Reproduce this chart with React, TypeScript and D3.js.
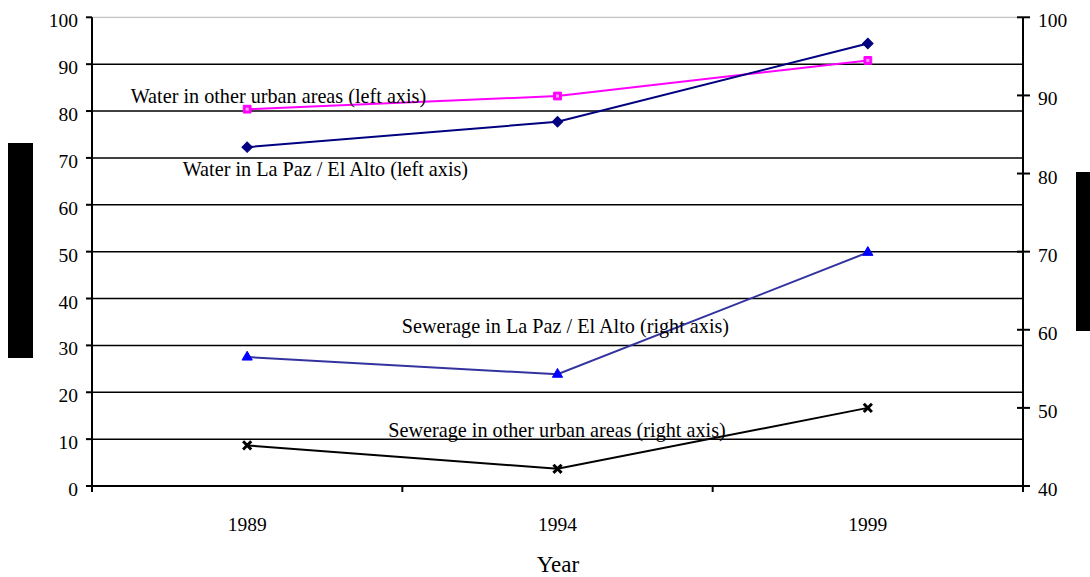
import { useRef, useEffect } from 'react';
import * as d3 from 'd3';

const years = ['1989', '1994', '1999'];

// left axis series (%)
const waterOtherUrban = [80.4, 83.2, 90.8];
const waterLaPaz = [72.3, 77.7, 94.4];

// right axis series (%)
const sewerLaPaz = [56.5, 54.3, 69.9];
const sewerOtherUrban = [45.2, 42.2, 50.0];

const leftTicks = [0, 10, 20, 30, 40, 50, 60, 70, 80, 90, 100];
const rightTicks = [40, 50, 60, 70, 80, 90, 100];

const width = 1090;
const height = 577;
const font = '"Liberation Serif", "Times New Roman", serif';

export default function App() {
  const svgRef = useRef<SVGSVGElement>(null);

  useEffect(() => {
    if (!svgRef.current) return;
    const svg = d3.select(svgRef.current);
    svg.selectAll('*').remove();

    const left = 92;
    const right = 1023;
    const top = 17.3;
    const bottom = 486;

    const x = d3.scaleBand().domain(years).range([left, right]).padding(0);
    const yL = d3.scaleLinear().domain([0, 100]).range([bottom, top]);
    const yR = d3.scaleLinear().domain([40, 100]).range([bottom, top]);
    const cx = (d: string) => x(d)! + x.bandwidth() / 2;

    // side blocks (rotated axis titles rendered as solid boxes)
    svg.append('rect').attr('x', 8).attr('y', 143).attr('width', 25).attr('height', 215).attr('fill', '#000');
    svg.append('rect').attr('x', 1076).attr('y', 172).attr('width', 14).attr('height', 159).attr('fill', '#000');

    // gridlines
    svg.append('g')
      .selectAll('line')
      .data(leftTicks.filter((t) => t > 0))
      .enter()
      .append('line')
      .attr('x1', left)
      .attr('x2', right)
      .attr('y1', (d) => yL(d))
      .attr('y2', (d) => yL(d))
      .attr('stroke', (d) => (d === 100 ? '#b4b4b4' : '#000'))
      .attr('stroke-width', (d) => (d === 100 ? 1 : 1.5));

    // left axis
    const gL = svg.append('g').attr('transform', `translate(${left},0)`);
    gL.append('line').attr('y1', top).attr('y2', bottom + 6).attr('stroke', '#000').attr('stroke-width', 2);
    gL.selectAll('.tick')
      .data(leftTicks)
      .enter()
      .append('line')
      .attr('x1', -6)
      .attr('x2', 0)
      .attr('y1', (d) => yL(d))
      .attr('y2', (d) => yL(d))
      .attr('stroke', '#000')
      .attr('stroke-width', 2);
    gL.selectAll('text')
      .data(leftTicks)
      .enter()
      .append('text')
      .attr('x', -14)
      .attr('y', (d) => yL(d) + 10)
      .attr('text-anchor', 'end')
      .attr('font-family', font)
      .attr('font-size', '19.5px')
      .text((d) => String(d));

    // right axis
    const gR = svg.append('g').attr('transform', `translate(${right},0)`);
    gR.append('line').attr('y1', top).attr('y2', bottom + 6).attr('stroke', '#000').attr('stroke-width', 2);
    gR.selectAll('.tick')
      .data(rightTicks)
      .enter()
      .append('line')
      .attr('x1', -6)
      .attr('x2', 7)
      .attr('y1', (d) => yR(d))
      .attr('y2', (d) => yR(d))
      .attr('stroke', '#000')
      .attr('stroke-width', 2);
    gR.selectAll('text')
      .data(rightTicks)
      .enter()
      .append('text')
      .attr('x', 15)
      .attr('y', (d) => yR(d) + 10)
      .attr('font-family', font)
      .attr('font-size', '19.5px')
      .text((d) => String(d));

    // x axis
    svg.append('line')
      .attr('x1', left)
      .attr('x2', right)
      .attr('y1', bottom)
      .attr('y2', bottom)
      .attr('stroke', '#000')
      .attr('stroke-width', 2);
    const bounds = years.map((d) => x(d)!).concat([right]);
    svg.append('g')
      .selectAll('line')
      .data(bounds)
      .enter()
      .append('line')
      .attr('x1', (d) => d)
      .attr('x2', (d) => d)
      .attr('y1', bottom)
      .attr('y2', bottom + 6)
      .attr('stroke', '#000')
      .attr('stroke-width', 2);
    svg.append('g')
      .selectAll('text')
      .data(years)
      .enter()
      .append('text')
      .attr('x', (d) => cx(d))
      .attr('y', 531)
      .attr('text-anchor', 'middle')
      .attr('font-family', font)
      .attr('font-size', '19.5px')
      .text((d) => d);
    svg.append('text')
      .attr('x', 558)
      .attr('y', 572)
      .attr('text-anchor', 'middle')
      .attr('font-family', font)
      .attr('font-size', '23px')
      .text('Year');

    // series
    const series = [
      { values: waterOtherUrban, y: yL, line: '#ff00ff', mark: '#ff00ff', symbol: d3.symbolSquare, size: 60, rotate: 0 },
      { values: waterLaPaz, y: yL, line: '#000080', mark: '#000080', symbol: d3.symbolSquare, size: 55, rotate: 45 },
      { values: sewerLaPaz, y: yR, line: '#3333a0', mark: '#0000ff', symbol: d3.symbolTriangle, size: 45, rotate: 0 },
      { values: sewerOtherUrban, y: yR, line: '#000', mark: '#000', symbol: d3.symbolX, size: 45, rotate: 0 },
    ];

    series.forEach((s, si) => {
      const line = d3
        .line<number>()
        .x((_, i) => cx(years[i]))
        .y((d) => s.y(d));
      svg.append('path')
        .attr('d', line(s.values))
        .attr('fill', 'none')
        .attr('stroke', s.line)
        .attr('stroke-width', 2);
      const sym = d3.symbol().type(s.symbol).size(s.size);
      svg.append('g')
        .selectAll('path')
        .data(s.values)
        .enter()
        .append('path')
        .attr('transform', (d, i) => `translate(${cx(years[i])},${s.y(d)}) rotate(${s.rotate})`)
        .attr('d', sym())
        .attr('fill', s.symbol === d3.symbolX ? 'none' : s.mark)
        .attr('stroke', s.mark)
        .attr('stroke-width', s.symbol === d3.symbolX ? 3 : 1);
      if (si === 0) {
        svg.append('g')
          .selectAll('rect')
          .data(s.values)
          .enter()
          .append('rect')
          .attr('x', (_, i) => cx(years[i]) - 1.5)
          .attr('y', (d) => s.y(d) - 1.5)
          .attr('width', 3)
          .attr('height', 3)
          .attr('fill', '#ffa0ff');
      }
    });

    // series labels
    const labels = [
      { text: 'Water in other urban areas (left axis)', x: 130.7, y: 102.7 },
      { text: 'Water in La Paz / El Alto (left axis)', x: 182.7, y: 176 },
      { text: 'Sewerage in La Paz / El Alto (right axis)', x: 401.7, y: 333.3 },
      { text: 'Sewerage in other urban areas (right axis)', x: 388.3, y: 437.3 },
    ];
    svg.append('g')
      .selectAll('text')
      .data(labels)
      .enter()
      .append('text')
      .attr('x', (d) => d.x)
      .attr('y', (d) => d.y)
      .attr('font-family', font)
      .attr('font-size', '20.2px')
      .text((d) => d.text);
  }, []);

  return (
    <svg
      ref={svgRef}
      width={width}
      height={height}
      style={{ position: 'absolute', left: 0, top: 0, background: '#fff' }}
    />
  );
}
